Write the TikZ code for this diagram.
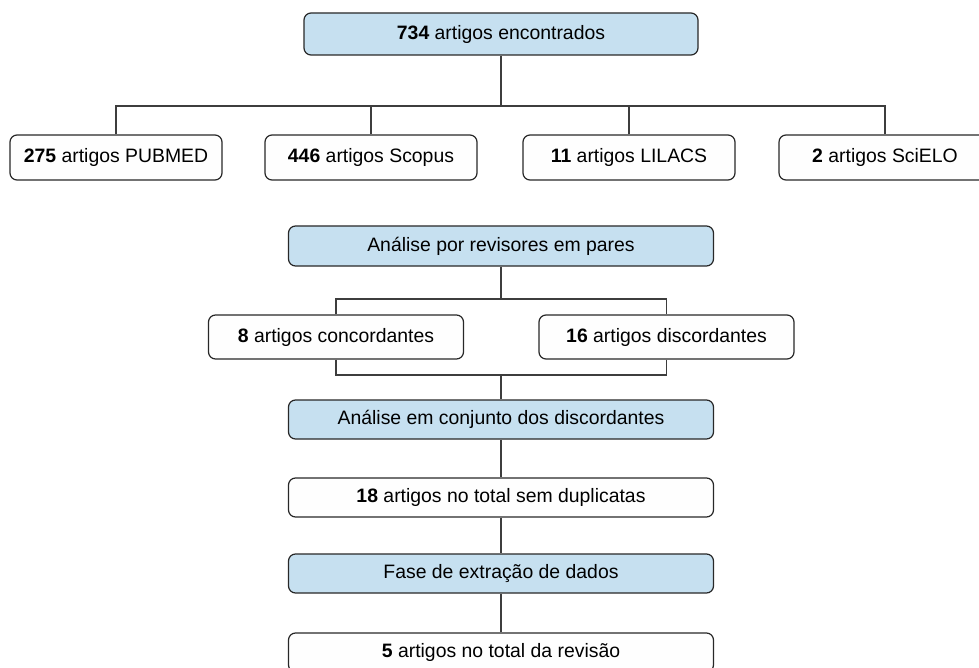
\documentclass[tikz,border=0pt]{standalone}
\usepackage{fontspec}
\setmainfont{Liberation Sans}
\definecolor{boxblue}{RGB}{198,224,240}
\definecolor{boxline}{RGB}{40,40,40}
\definecolor{boxwhite}{RGB}{254,254,254}
\begin{document}
\begin{tikzpicture}[x=1pt,y=-1pt,
  base/.style={draw=boxline,line width=1.2pt,rounded corners=7pt,inner sep=0pt,
    font=\fontsize{19.4}{22}\selectfont,text=black},
  bluebox/.style={base,fill=boxblue},
  whitebox/.style={base,fill=boxwhite},
  conn/.style={draw=boxline!90!white,line width=1.2pt}]
\useasboundingbox (0,0) rectangle (979,668);
\node[bluebox,minimum width=394pt,minimum height=42pt] (top) at (501,34) {\textbf{734} artigos encontrados};
\node[whitebox,minimum width=212pt,minimum height=45pt] (b1) at (116,157.5) {\textbf{275} artigos PUBMED};
\node[whitebox,minimum width=212pt,minimum height=45pt] (b2) at (371,157.5) {\textbf{446} artigos Scopus};
\node[whitebox,minimum width=212pt,minimum height=45pt] (b3) at (629,157.5) {\textbf{11} artigos LILACS};
\node[whitebox,minimum width=212pt,minimum height=45pt] (b4) at (885,157.5) {\textbf{2} artigos SciELO};
\node[bluebox,minimum width=425pt,minimum height=40pt] (a1) at (501,246) {Análise por revisores em pares};
\node[whitebox,minimum width=255pt,minimum height=44pt] (conc) at (336,337) {\textbf{8} artigos concordantes};
\node[whitebox,minimum width=255pt,minimum height=44pt] (disc) at (666.5,337) {\textbf{16} artigos discordantes};
\node[bluebox,minimum width=425pt,minimum height=39pt] (a2) at (501,419.5) {Análise em conjunto dos discordantes};
\node[whitebox,minimum width=425pt,minimum height=39pt] (tot) at (501,497.5) {\textbf{18} artigos no total sem duplicatas};
\node[bluebox,minimum width=425pt,minimum height=39pt] (fase) at (501,573.5) {Fase de extração de dados};
\node[whitebox,minimum width=425pt,minimum height=39pt] (fin) at (501,652.5) {\textbf{5} artigos no total da revisão};
\coordinate (bus) at (501,106);
\coordinate (bt) at (501,299);
\coordinate (bb) at (501,375);
\draw[conn] (top.south) -- (bus);
\draw[conn] (b1.north) |- (bus);
\draw[conn] (b4.north) |- (bus);
\draw[conn] (b2.north) -- (b2.north |- bus);
\draw[conn] (b3.north) -- (b3.north |- bus);
\draw[conn] (a1.south) -- (bt);
\draw[conn] (conc.north) |- (bt);
\draw[conn] (disc.north) |- (bt);
\draw[conn] (conc.south) |- (bb);
\draw[conn] (disc.south) |- (bb);
\draw[conn] (bb) -- (a2.north);
\draw[conn] (a2.south) -- (tot.north);
\draw[conn] (tot.south) -- (fase.north);
\draw[conn] (fase.south) -- (fin.north);
\end{tikzpicture}
\end{document}
